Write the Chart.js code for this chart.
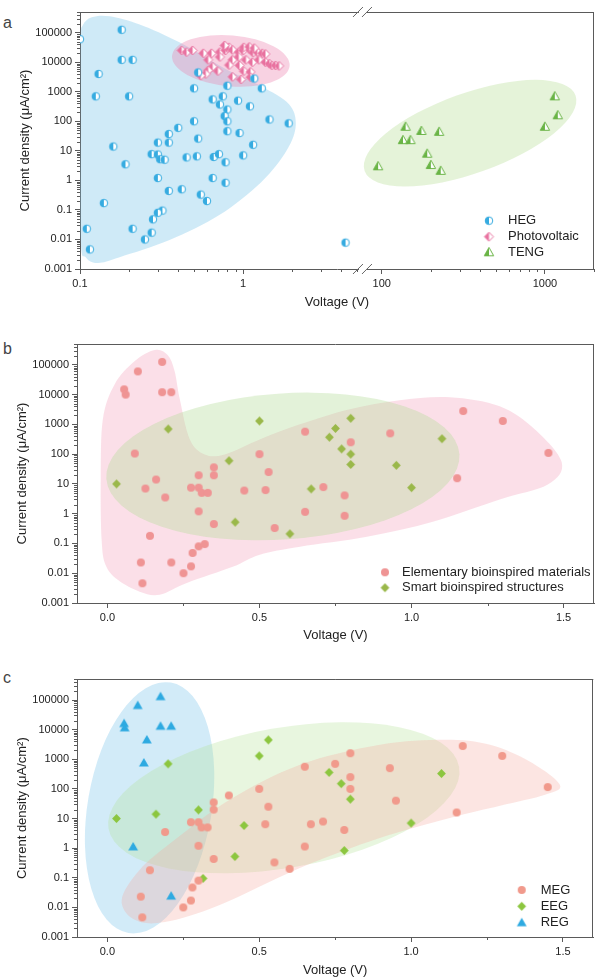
<!DOCTYPE html>
<html>
<head>
<meta charset="utf-8">
<script src="https://cdn.jsdelivr.net/npm/chart.js@4.4.0/dist/chart.umd.min.js"></script>
<style>
  body { margin: 0; background: #fff; width: 600px; height: 979px; position: relative; overflow: hidden; font-family: "Liberation Sans", Arial, sans-serif; }
  canvas { position: absolute; left: 0; }
  .lbl { position: absolute; font-size: 16px; line-height: 16px; font-weight: normal; color: #444; }
</style>
</head>
<body>
<div class="lbl" style="left:3px;top:15px">a</div>
<div class="lbl" style="left:3px;top:341px">b</div>
<div class="lbl" style="left:3px;top:670px">c</div>
<canvas id="chartA" width="600" height="312" style="top:0"></canvas>
<canvas id="chartB" width="600" height="327" style="top:318px"></canvas>
<canvas id="chartC" width="600" height="329" style="top:650px"></canvas>
<script>
Chart.defaults.font.family = '"Liberation Sans", Arial, sans-serif';
Chart.defaults.color = '#222';
const AXIS = '#5a5a5a';

// shared y axis (current density, log)
const yTicks = [0.001, 0.01, 0.1, 1, 10, 100, 1000, 10000, 100000];
const yMin = 0.001, yMax = 500000;

// ---------- panel a : voltage on a broken log axis ----------
const xTicksA = [0.1, 1, 100, 1000];
const xMinA = 0.1, xMaxA = 2000;
const breakLow = 5.3, breakHigh = 75;

const hegA = [
  [0.1, 60000], [0.18, 125000], [0.18, 12000], [0.21, 12000], [0.13, 4000], [0.125, 700], [0.2, 700],
  [0.53, 4500], [0.5, 1300], [0.8, 1600], [1.17, 2800], [1.3, 1300], [0.65, 550], [0.75, 700],
  [0.72, 370], [0.8, 250], [0.93, 500], [1.1, 320], [0.77, 150], [0.8, 100], [0.5, 100], [1.45, 115],
  [1.9, 85], [0.4, 60], [0.8, 46], [0.95, 40], [0.35, 37], [0.53, 26], [0.35, 19], [0.3, 19],
  [1.15, 16], [0.16, 14], [0.275, 7.7], [0.3, 7.5], [0.31, 5.2], [0.33, 5], [0.19, 3.5], [0.45, 6],
  [0.52, 6.5], [0.66, 6.2], [0.71, 7.7], [1.0, 7], [0.78, 4.1], [0.3, 1.2], [0.65, 1.2], [0.78, 0.83],
  [0.35, 0.44], [0.42, 0.5], [0.55, 0.33], [0.6, 0.2], [0.14, 0.17], [0.32, 0.095], [0.3, 0.08],
  [0.28, 0.048], [0.11, 0.023], [0.21, 0.023], [0.275, 0.017], [0.25, 0.01], [0.115, 0.0046], [60, 0.0078]
];
const pvA = [
  [0.42, 25000], [0.45, 22000], [0.49, 25000], [0.57, 20000], [0.64, 20000], [0.72, 22000], [0.78, 25000],
  [0.8, 30000], [0.82, 32000], [0.86, 26000], [0.94, 22000], [1.0, 25000], [1.09, 28000], [1.17, 27000],
  [1.15, 21000], [1.22, 22000], [1.31, 20000], [1.37, 19000], [0.77, 37000], [1.01, 32000], [1.09, 33000],
  [1.17, 30000], [0.61, 12000], [0.72, 15000], [0.86, 12000], [0.94, 15000], [1.04, 12000], [1.14, 10000],
  [1.25, 12000], [1.37, 10000], [1.45, 8900], [0.65, 7000], [0.82, 8000], [0.95, 7800], [1.5, 7800],
  [1.58, 7800], [1.66, 7500], [0.61, 5300], [0.7, 5000], [1.01, 5000], [1.11, 4700], [0.59, 4000],
  [0.86, 3200], [0.97, 2600], [1.11, 3100], [0.55, 3500]
];
const tengA = [
  [1150, 700], [1200, 160], [1000, 65], [140, 65], [175, 47], [225, 44], [135, 23], [150, 23],
  [190, 8], [95, 3], [200, 3.3], [230, 2.1]
];
const hegZoneA = [
  [0.104, 177000], [0.118, 330000], [0.152, 360000], [0.232, 190000], [0.407, 47000], [0.766, 6200],
  [1.29, 1530], [1.91, 378], [2.1, 73], [1.85, 10.4], [1.29, 0.87], [0.714, 0.067], [0.354, 0.0095],
  [0.175, 0.0025], [0.129, 0.0016], [0.109, 0.0024], [0.101, 0.0095], [0.101, 107], [0.101, 55000]
];
const pvZoneA = { x: 0.84, y: 11100, rx: 59, ry: 25.5, rot: 5 };
const tengZoneA = { x: 348, y: 39.5, rx: 112, ry: 40, rot: -19.7 };

// ---------- panel b ----------
const xTicksBC = [0, 0.5, 1, 1.5];
const xMinBC = -0.1, xMaxBC = 1.6;

const elemB = [
  [0.055, 15000], [0.06, 10000], [0.1, 60000], [0.18, 125000], [0.18, 12000], [0.21, 12000], [0.09, 105],
  [0.5, 100], [0.35, 36], [0.35, 19.5], [0.3, 19.5], [0.53, 25], [0.16, 14], [0.125, 7], [0.275, 7.5],
  [0.3, 7.5], [0.31, 5], [0.33, 5], [0.19, 3.5], [0.45, 6], [0.52, 6.2], [0.3, 1.2], [0.35, 0.45],
  [0.55, 0.33], [0.14, 0.18], [0.3, 0.08], [0.32, 0.095], [0.28, 0.048], [0.11, 0.023], [0.21, 0.023],
  [0.275, 0.017], [0.25, 0.01], [0.115, 0.0046], [1.17, 2800], [1.3, 1300], [1.45, 110], [0.65, 570],
  [0.8, 250], [0.93, 500], [1.15, 15.5], [0.71, 7.8], [0.78, 4.1], [0.65, 1.15], [0.78, 0.85]
];
const smartB = [
  [0.03, 10], [0.2, 700], [0.5, 1300], [0.4, 60], [0.42, 0.52], [0.6, 0.21], [0.8, 1600], [0.75, 730],
  [0.73, 370], [0.77, 150], [0.8, 100], [0.8, 45], [0.95, 42], [1.1, 330], [0.67, 6.8], [1.0, 7.5]
];
const elemZoneB = [
  [-0.019, 0.133], [-0.022, 14], [-0.015, 1480], [0.024, 22400], [0.09, 133000], [0.156, 313000],
  [0.198, 212000], [0.221, 61000], [0.238, 7000], [0.271, 313], [0.32, 98], [0.386, 98], [0.501, 313],
  [0.633, 1000], [0.797, 3210], [0.961, 6460], [1.126, 8150], [1.29, 4050], [1.405, 680], [1.494, 52.6],
  [1.448, 9.5], [1.29, 3], [1.07, 0.54], [0.853, 0.168], [0.633, 0.078], [0.501, 0.042], [0.412, 0.0164],
  [0.261, 0.0047], [0.172, 0.0019], [0.106, 0.0024], [0.034, 0.006], [-0.006, 0.019]
];
const smartZoneB = { x: 0.577, y: 38.5, rx: 177, ry: 73, rot: -4 };

// ---------- panel c ----------
const megC = [
  [0.35, 35], [0.35, 20], [0.53, 25], [0.275, 7.5], [0.3, 7.5], [0.31, 5], [0.33, 5], [0.19, 3.5],
  [0.52, 6.4], [0.3, 1.2], [0.35, 0.43], [0.55, 0.33], [0.14, 0.18], [0.3, 0.08], [0.28, 0.047],
  [0.11, 0.023], [0.275, 0.017], [0.25, 0.01], [0.115, 0.0046], [0.6, 0.2], [0.5, 100], [0.4, 60],
  [0.8, 1600], [0.75, 700], [0.65, 560], [0.8, 250], [0.8, 100], [0.93, 500], [1.17, 2800], [1.3, 1300],
  [1.45, 115], [0.95, 40], [1.15, 16], [0.67, 6.4], [0.71, 7.9], [0.78, 4.1], [0.65, 1.13]
];
const eegC = [
  [0.2, 700], [0.53, 4500], [0.5, 1300], [0.03, 10], [0.16, 14], [0.3, 19.5], [0.45, 5.8], [0.42, 0.52],
  [0.315, 0.095], [0.73, 360], [0.77, 150], [0.8, 45], [1.1, 330], [1.0, 7], [0.78, 0.83]
];
const regC = [
  [0.175, 130000], [0.1, 65000], [0.055, 16000], [0.057, 11500], [0.175, 13000], [0.21, 13000],
  [0.13, 4500], [0.12, 750], [0.085, 1.1], [0.21, 0.024]
];
const megZoneC = [
  [0.047, 0.0178], [0.106, 0.184], [0.222, 1.9], [0.403, 42.8], [0.634, 652], [0.897, 3090], [1.111, 4550],
  [1.26, 3090], [1.392, 822], [1.49, 137], [1.441, 63], [1.293, 26.8], [1.128, 10.5], [0.897, 2.2],
  [0.634, 0.215], [0.37, 0.0121], [0.189, 0.0032], [0.09, 0.0038]
];
const regZoneC = { x: 0.139, y: 23, rx: 62, ry: 127, rot: 9.6 };
const eegZoneC = { x: 0.581, y: 50, rx: 178, ry: 70, rot: -10 };

// broken axis: voltages above the break are shifted left by the gap
const gapA = Math.log10(breakHigh) - Math.log10(breakLow);
function toU(v) {
  return v <= breakLow ? Math.log10(v) : Math.log10(v) - gapA;
}
const same = v => v;

function makeMarker(shape, color, r, half) {
  const s = Math.ceil(r * 2 + 4);
  const c = document.createElement('canvas');
  c.width = c.height = s;
  const g = c.getContext('2d');
  const m = s / 2;
  const path = () => {
    g.beginPath();
    if (shape === 'circle') g.arc(m, m, r, 0, Math.PI * 2);
    else if (shape === 'diamond') { g.moveTo(m, m - r); g.lineTo(m + r, m); g.lineTo(m, m + r); g.lineTo(m - r, m); g.closePath(); }
    else { g.moveTo(m, m - r); g.lineTo(m + r * 0.98, m + r * 0.72); g.lineTo(m - r * 0.98, m + r * 0.72); g.closePath(); }
  };
  if (half) {
    path(); g.fillStyle = '#fff'; g.fill();
    g.save(); path(); g.clip(); g.fillStyle = color; g.fillRect(0, 0, m, s); g.restore();
    path(); g.strokeStyle = color; g.lineWidth = 1; g.stroke();
  } else {
    path(); g.fillStyle = color; g.fill();
  }
  return c;
}

function smoothPath(ctx, pts) {
  const n = pts.length;
  ctx.moveTo(pts[0][0], pts[0][1]);
  for (let i = 0; i < n; i++) {
    const p0 = pts[(i - 1 + n) % n], p1 = pts[i], p2 = pts[(i + 1) % n], p3 = pts[(i + 2) % n];
    ctx.bezierCurveTo(p1[0] + (p2[0] - p0[0]) / 6, p1[1] + (p2[1] - p0[1]) / 6,
                      p2[0] - (p3[0] - p1[0]) / 6, p2[1] - (p3[1] - p1[1]) / 6, p2[0], p2[1]);
  }
  ctx.closePath();
}

// shaded groups behind the points
function zonePlugin(zones, xf) {
  return {
    id: 'zones',
    beforeDatasetsDraw(chart) {
      const { ctx, chartArea: a, scales: { x, y } } = chart;
      ctx.save();
      ctx.beginPath(); ctx.rect(a.left, a.top, a.width, a.height); ctx.clip();
      zones.forEach(z => {
        ctx.fillStyle = z.color;
        ctx.beginPath();
        if (z.outline) {
          smoothPath(ctx, z.outline.map(p => [x.getPixelForValue(xf(p[0])), y.getPixelForValue(p[1])]));
        } else {
          const e = z.ellipse;
          ctx.ellipse(x.getPixelForValue(xf(e.x)), y.getPixelForValue(e.y), e.rx, e.ry, e.rot * Math.PI / 180, 0, Math.PI * 2);
        }
        ctx.fill();
      });
      ctx.restore();
    }
  };
}

// frame, minor ticks, axis break and legend
function decorPlugin(cfg) {
  return {
    id: 'decor',
    afterDraw(chart) {
      const { ctx, chartArea: a, scales: { x, y } } = chart;
      ctx.save();
      ctx.strokeStyle = AXIS;
      ctx.lineWidth = 1;
      ctx.beginPath();
      ctx.moveTo(a.left, Math.round(a.top) + 0.5); ctx.lineTo(a.right, Math.round(a.top) + 0.5);
      ctx.moveTo(Math.round(a.right) - 0.5, a.top); ctx.lineTo(Math.round(a.right) - 0.5, a.bottom);
      // minor ticks on y
      for (let e = -3; e <= 5; e++) {
        for (let k = 2; k <= 9; k++) {
          const v = k * Math.pow(10, e);
          if (v > yMax) continue;
          const py = Math.round(y.getPixelForValue(v)) + 0.5;
          ctx.moveTo(a.left - 3, py); ctx.lineTo(a.left, py);
        }
      }
      cfg.xMinor.forEach(v => {
        const px = Math.round(x.getPixelForValue(v)) + 0.5;
        ctx.moveTo(px, a.bottom); ctx.lineTo(px, a.bottom + 3);
      });
      ctx.stroke();
      if (cfg.breakAt !== undefined) {
        const px = x.getPixelForValue(cfg.breakAt);
        [a.top, a.bottom].forEach(py => {
          ctx.fillStyle = '#fff';
          ctx.fillRect(px - 4, py - 2, 8, 4);
          ctx.beginPath();
          ctx.strokeStyle = '#666';
          ctx.moveTo(px - 10, py + 5); ctx.lineTo(px, py - 5);
          ctx.moveTo(px - 1, py + 5); ctx.lineTo(px + 9, py - 5);
          ctx.stroke();
        });
      }
      ctx.font = '13px "Liberation Sans", Arial, sans-serif';
      ctx.fillStyle = '#222';
      ctx.textBaseline = 'middle';
      cfg.legend.items.forEach((it, i) => {
        const py = cfg.legend.rows[i];
        ctx.drawImage(it.img, cfg.legend.mx - it.img.width / 2, py - it.img.height / 2);
        ctx.fillText(it.text, cfg.legend.tx, py);
      });
      ctx.restore();
    }
  };
}

function scatterChart(id, cfg) {
  return new Chart(document.getElementById(id), {
    type: 'scatter',
    data: {
      datasets: cfg.series.map(s => ({
        label: s.label,
        data: s.points.map(p => ({ x: cfg.xf(p[0]), y: p[1] })),
        pointStyle: s.img,
        pointRadius: 5,
        pointHoverRadius: 5,
        clip: 0
      }))
    },
    options: {
      responsive: false,
      animation: false,
      events: [],
      layout: { padding: cfg.padding },
      plugins: { legend: { display: false }, tooltip: { enabled: false } },
      scales: {
        x: {
          type: 'linear',
          min: cfg.xMin, max: cfg.xMax,
          afterBuildTicks: s => { s.ticks = cfg.xTicks.map(v => ({ value: v })); },
          afterFit: s => { s.height = cfg.xHeight; s.paddingLeft = 0; s.paddingRight = 0; },
          grid: { drawOnChartArea: false, tickLength: 5, color: AXIS },
          border: { color: AXIS },
          ticks: { padding: 3, maxRotation: 0, font: { size: 11 }, color: '#222', callback: (v, i) => cfg.xLabels[i] },
          title: { display: true, text: 'Voltage (V)', font: { size: 13 }, color: '#222', padding: { top: 0, bottom: cfg.xTitlePad } }
        },
        y: {
          type: 'logarithmic',
          min: yMin, max: yMax,
          afterBuildTicks: s => { s.ticks = yTicks.map(v => ({ value: v })); },
          afterFit: s => { s.width = cfg.yWidth; s.paddingTop = 0; s.paddingBottom = 0; },
          grid: { drawOnChartArea: false, tickLength: 5, color: AXIS },
          border: { color: AXIS },
          ticks: { padding: 3, font: { size: 11 }, color: '#222', callback: v => String(v) },
          title: { display: true, text: 'Current density (μA/cm²)', font: { size: 13 }, color: '#222', padding: { top: cfg.yTitlePad, bottom: 0 } }
        }
      }
    },
    plugins: [zonePlugin(cfg.zones, cfg.xf), decorPlugin(cfg)]
  });
}

function logMinor(decades, keep) {
  const out = [];
  decades.forEach(d => { for (let k = 2; k <= 9; k++) if (keep(k * d)) out.push(k * d); });
  return out;
}

// panel a
const hegImg = makeMarker('circle', '#36abe0', 3.8, true);
const pvImg = makeMarker('diamond', '#e8719f', 4.5, true);
const tengImg = makeMarker('triangle', '#6ab446', 4.8, true);
scatterChart('chartA', {
  xf: toU,
  xMin: toU(xMinA), xMax: toU(xMaxA),
  xTicks: xTicksA.map(toU), xLabels: xTicksA.map(String),
  xMinor: logMinor([0.1, 1], v => v <= breakLow).concat(logMinor([100, 1000], v => v <= xMaxA)).map(toU),
  breakAt: toU(breakLow) + 0.01,
  padding: { left: 0, top: 12, right: 4, bottom: 0 },
  xHeight: 43, xTitlePad: 2, yWidth: 80, yTitlePad: 18,
  series: [
    { label: 'HEG', points: hegA, img: hegImg },
    { label: 'Photovoltaic', points: pvA, img: pvImg },
    { label: 'TENG', points: tengA, img: tengImg }
  ],
  zones: [
    { outline: hegZoneA, color: 'rgba(140,205,235,0.42)' },
    { ellipse: pvZoneA, color: 'rgba(236,130,176,0.36)' },
    { ellipse: tengZoneA, color: 'rgba(170,215,130,0.3)' }
  ],
  legend: { mx: 489, tx: 508, rows: [220.7, 236.7, 252.3], items: [
    { img: hegImg, text: 'HEG' }, { img: pvImg, text: 'Photovoltaic' }, { img: tengImg, text: 'TENG' }
  ] }
});

// panel b
const elemImg = makeMarker('circle', '#ef9494', 4, false);
const smartImg = makeMarker('diamond', '#9ab84a', 4.4, false);
scatterChart('chartB', {
  xf: same,
  xMin: xMinBC, xMax: xMaxBC,
  xTicks: xTicksBC, xLabels: xTicksBC.map(v => v.toFixed(1)),
  xMinor: [0.25, 0.75, 1.25],
  padding: { left: 0, top: 26, right: 5.3, bottom: 0 },
  xHeight: 42, xTitlePad: 2, yWidth: 77, yTitlePad: 15,
  series: [
    { label: 'Elementary bioinspired materials', points: elemB, img: elemImg },
    { label: 'Smart bioinspired structures', points: smartB, img: smartImg }
  ],
  zones: [
    { outline: elemZoneB, color: 'rgba(245,165,192,0.36)' },
    { ellipse: smartZoneB, color: 'rgba(178,220,150,0.36)' }
  ],
  legend: { mx: 385, tx: 402, rows: [254.3, 269.7], items: [
    { img: elemImg, text: 'Elementary bioinspired materials' }, { img: smartImg, text: 'Smart bioinspired structures' }
  ] }
});

// panel c
const megImg = makeMarker('circle', '#f19a8c', 4, false);
const eegImg = makeMarker('diamond', '#8cc63f', 4.4, false);
const regImg = makeMarker('triangle', '#2eaae1', 5, false);
scatterChart('chartC', {
  xf: same,
  xMin: xMinBC, xMax: xMaxBC,
  xTicks: xTicksBC, xLabels: xTicksBC.map(v => v.toFixed(1)),
  xMinor: [0.25, 0.75, 1.25],
  padding: { left: 0, top: 29.3, right: 6.7, bottom: 0 },
  xHeight: 42, xTitlePad: 0.5, yWidth: 77, yTitlePad: 14.5,
  series: [
    { label: 'MEG', points: megC, img: megImg },
    { label: 'EEG', points: eegC, img: eegImg },
    { label: 'REG', points: regC, img: regImg }
  ],
  zones: [
    { ellipse: regZoneC, color: 'rgba(130,200,235,0.36)' },
    { ellipse: eegZoneC, color: 'rgba(180,225,150,0.3)' },
    { outline: megZoneC, color: 'rgba(245,170,160,0.3)' }
  ],
  legend: { mx: 521.7, tx: 540.7, rows: [240, 256.3, 272.7], items: [
    { img: megImg, text: 'MEG' }, { img: eegImg, text: 'EEG' }, { img: regImg, text: 'REG' }
  ] }
});
</script>
</body>
</html>
